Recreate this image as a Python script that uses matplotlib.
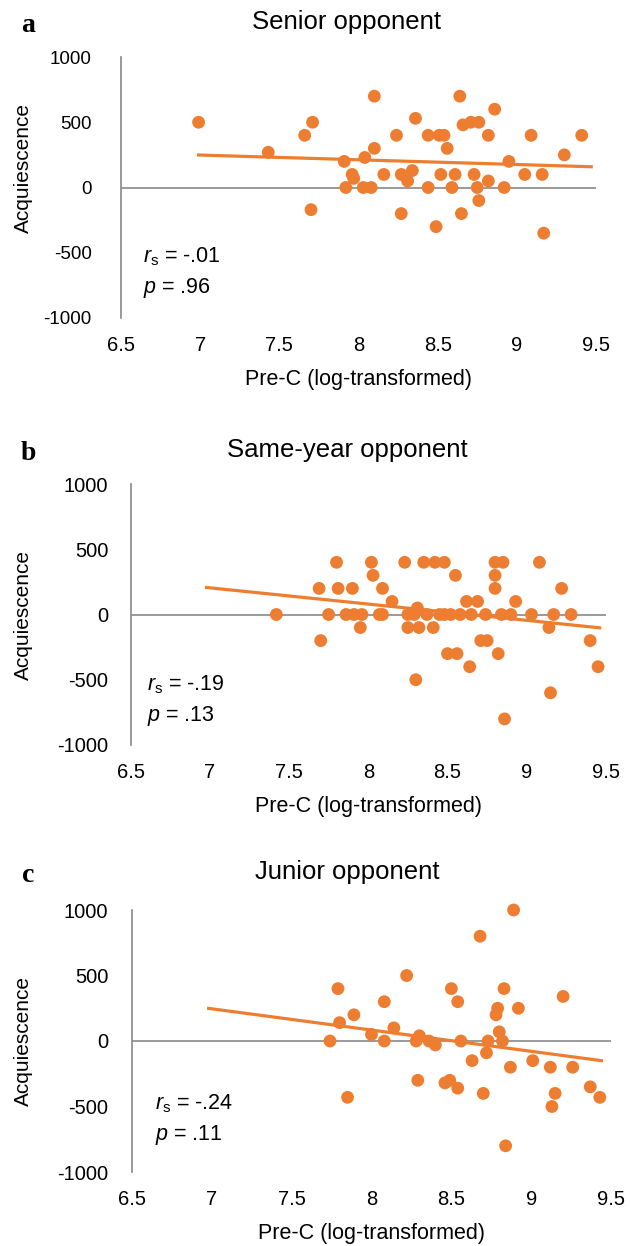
import numpy as np
import matplotlib
matplotlib.use('Agg')
import matplotlib.pyplot as plt

plt.rcParams['font.family'] = ['Liberation Sans', 'DejaVu Sans']
plt.rcParams['mathtext.fontset'] = 'custom'
plt.rcParams['mathtext.rm'] = 'Liberation Sans'
plt.rcParams['mathtext.it'] = 'Liberation Sans:italic'
plt.rcParams['axes.unicode_minus'] = False

# data

# a: senior opponent
senior_x = [6.99, 7.43, 7.66, 7.71, 7.70, 7.91, 7.96, 7.97, 7.92, 8.03, 8.08, 8.04,
            8.10, 8.10, 8.16, 8.24, 8.27, 8.27, 8.31, 8.34, 8.36, 8.44, 8.44, 8.49,
            8.51, 8.54, 8.52, 8.56, 8.59, 8.61, 8.64, 8.65, 8.66, 8.71, 8.76, 8.73,
            8.75, 8.76, 8.82, 8.82, 8.86, 8.92, 8.95, 9.05, 9.09, 9.16, 9.17, 9.30, 9.41]
senior_y = [500, 270, 400, 500, -170, 200, 100, 70, 0, 0, 0, 230,
            700, 300, 100, 400, 100, -200, 50, 130, 530, 400, 0, -300,
            400, 400, 100, 300, 0, 100, 700, -200, 480, 500, 500, 100,
            0, -100, 50, 400, 600, 0, 200, 100, 400, 100, -350, 250, 400]
senior_trend_x = [6.99, 9.47]
senior_trend_y = [249, 159]

# b: same-year opponent
same_x = [7.42, 7.69, 7.70, 7.75, 7.80, 7.81, 7.86, 7.90, 7.91, 7.96, 7.95, 8.02,
          8.03, 8.07, 8.09, 8.09, 8.15, 8.23, 8.25, 8.25, 8.30, 8.31, 8.29, 8.32,
          8.35, 8.37, 8.41, 8.42, 8.45, 8.48, 8.48, 8.52, 8.50, 8.55, 8.56, 8.58,
          8.62, 8.64, 8.65, 8.69, 8.71, 8.75, 8.74, 8.80, 8.80, 8.80, 8.85, 8.82,
          8.84, 8.86, 8.90, 8.93, 9.03, 9.08, 9.14, 9.15, 9.17, 9.22, 9.28, 9.40, 9.45]
same_y = [0, 200, -200, 0, 400, 200, 0, 200, 0, 0, -100, 400,
          300, 0, 0, 200, 100, 400, 0, -100, -500, 50, 0, -100,
          400, 0, -100, 400, 0, 400, 0, 0, -300, 300, -300, 0,
          100, -400, 0, 100, -200, -200, 0, 200, 300, 400, 400, -300,
          0, -800, 0, 100, 0, 400, -100, -600, 0, 200, 0, -200, -400]
same_trend_x = [6.98, 9.46]
same_trend_y = [207, -102]

# c: junior opponent
junior_x = [8.89, 8.68, 8.22, 7.79, 8.50, 8.83, 9.20, 8.08, 8.54, 8.79, 8.92, 8.78,
            7.89, 7.80, 8.14, 8.00, 8.80, 7.74, 8.08, 8.30, 8.28, 8.36, 8.40, 8.56,
            8.73, 8.82, 8.72, 8.63, 8.87, 9.01, 9.12, 9.26, 8.29, 8.46, 8.49, 8.54,
            8.70, 9.15, 9.37, 7.85, 9.43, 9.13, 8.84]
junior_y = [1000, 800, 500, 400, 400, 400, 340, 300, 300, 250, 250, 200,
            200, 140, 100, 50, 70, 0, 0, 40, 0, 0, -30, 0,
            0, 0, -90, -150, -200, -150, -200, -200, -300, -320, -300, -360,
            -400, -400, -350, -430, -430, -500, -800]
junior_trend_x = [6.98, 9.44]
junior_trend_y = [249, -150]

titles = ['Senior opponent', 'Same-year opponent', 'Junior opponent']
letters = ['a', 'b', 'c']
stats_r = ['-.01', '-.19', '-.24']
stats_p = ['.96', '.13', '.11']
xticks = [6.5, 7, 7.5, 8, 8.5, 9, 9.5]
xtick_labels = ['6.5', '7', '7.5', '8', '8.5', '9', '9.5']
yticks = [-1000, -500, 0, 500, 1000]

panels = [(senior_x, senior_y, senior_trend_x, senior_trend_y),
          (same_x, same_y, same_trend_x, same_trend_y),
          (junior_x, junior_y, junior_trend_x, junior_trend_y)]

W, H = 630, 1246
orange = '#ED7D31'
grey = '#898989'

# pixel boxes (left, right, top, bottom) for each plot area
boxes = [(121, 596, 57, 318), (130.5, 606, 484, 745), (132, 611, 910, 1172)]
ypads = [21, 16, 17]
ysizes = [13.5, 14.5, 14.5]
title_y = [22, 450, 872]
letter_y = [26, 453, 876]
stat_y = [257, 685, 1104]
stat_x = [143, 147, 155]

fig = plt.figure(figsize=(W / 100, H / 100), dpi=100)

for i, (xs, ys, tx, ty) in enumerate(panels):
    l, r, t, b = boxes[i]
    ax = fig.add_axes([l / W, 1 - b / H, (r - l) / W, (b - t) / H])
    ax.set_xlim(6.5, 9.5)
    ax.set_ylim(-1000, 1000)
    for s in ['top', 'right', 'bottom']:
        ax.spines[s].set_visible(False)
    ax.spines['left'].set_color(grey)
    ax.spines['left'].set_linewidth(1.2)
    ax.axhline(0, color=grey, lw=1.2, zorder=1)
    ax.scatter(xs, ys, s=85, color=orange, edgecolors='none', zorder=3, clip_on=False)
    ax.plot(tx, ty, color=orange, lw=2.3, zorder=4)
    ax.set_xticks(xticks)
    ax.set_xticklabels(xtick_labels)
    ax.set_yticks(yticks)
    ax.tick_params(axis='both', length=0)
    ax.tick_params(axis='x', pad=13, labelsize=14.5)
    ax.tick_params(axis='y', pad=ypads[i], labelsize=ysizes[i])
    ax.set_xlabel('Pre-C (log-transformed)', fontsize=15.5, labelpad=10)

    ycen = (t + b) / 2 if i > 0 else 168
    fig.text(23 / W, 1 - ycen / H, 'Acquiescence', rotation=90, fontsize=15,
             ha='center', va='center')
    fig.text(347 / W, 1 - title_y[i] / H, titles[i], fontsize=18.5, ha='center', va='center')
    fig.text(28 / W, 1 - letter_y[i] / H, letters[i], fontsize=20, fontweight='bold',
             family='Liberation Serif', ha='center', va='center')
    fig.text(stat_x[i] / W, 1 - stat_y[i] / H,
             r'$\mathit{r}_{\mathrm{s}}$ = ' + stats_r[i], fontsize=15.5, ha='left', va='center')
    fig.text(stat_x[i] / W, 1 - (stat_y[i] + 31) / H,
             r'$\mathit{p}$ = ' + stats_p[i], fontsize=15.5, ha='left', va='center')

fig.savefig('out.png', dpi=100, facecolor='white')
